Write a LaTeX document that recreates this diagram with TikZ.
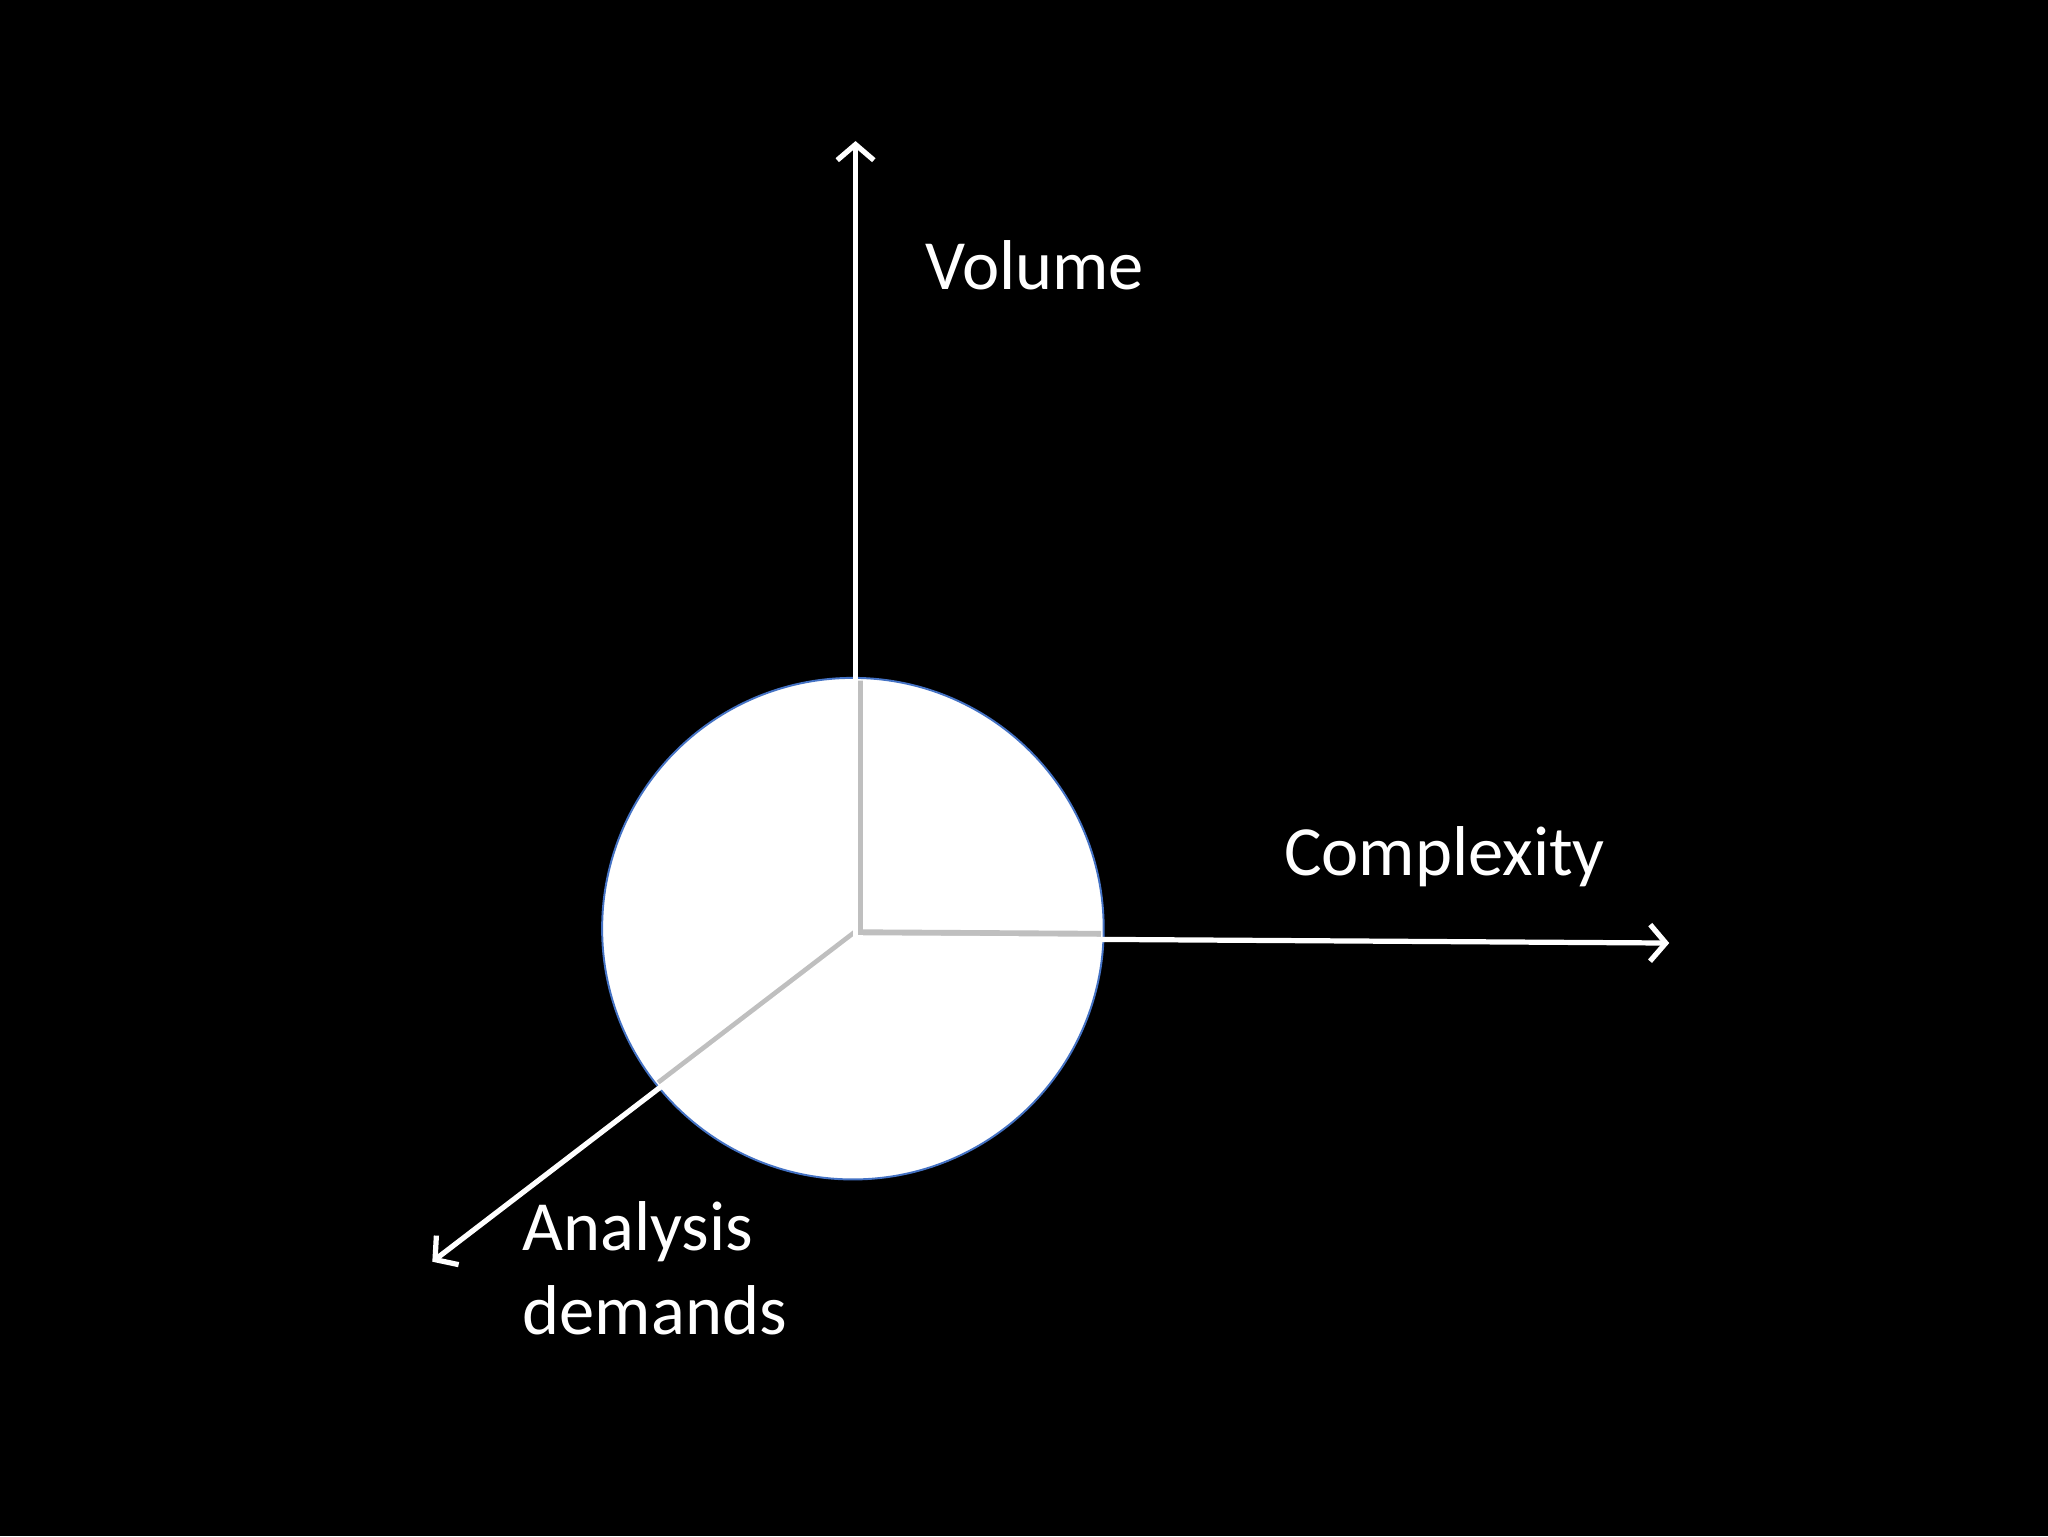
\documentclass[tikz,border=0pt]{standalone}
\usepackage{fontspec}
\setmainfont{Carlito}
\usetikzlibrary{arrows.meta}
\begin{document}
\begin{tikzpicture}[x=1pt,y=-1pt,
  axis/.style={draw=white,line width=4pt,-{Straight Barb[length=12pt,width=28pt,line width=4pt]}},
  shadow/.style={draw=black!25,line width=5pt},
  lbl/.style={text=white,font=\fontsize{54}{64}\selectfont,anchor=base west,inner sep=0pt}]
\fill[black] (0,0) rectangle (1568,1176);
\useasboundingbox (0,0) rectangle (1568,1176);
\node[circle,fill=white,draw={rgb,255:red,68;green,114;blue,196},line width=1.5pt,minimum size=384pt,inner sep=0pt] (ball) at (653,711) {};
\coordinate (o) at (655,718);
\coordinate (v) at (655,108);
\coordinate (c) at (1278,722);
\coordinate (a) at (331,966);
\begin{scope}
\clip (ball.center) circle (190pt);
\draw[shadow] ([xshift=3pt]o) -- ([xshift=3pt]v);
\draw[shadow] ([yshift=4pt]o) -- ([yshift=4pt]c);
\draw[shadow] ([yshift=4pt]o) -- ([yshift=4pt]a);
\end{scope}
\draw[axis] (o) -- (v);
\draw[axis] (o) -- (c);
\draw[axis] (o) -- (a);
\node[lbl] (lv) at (708,222) {Volume};
\node[lbl] (lc) at (983,670) {Complexity};
\node[lbl,align=left,anchor=north west] (la) at (400,920) {Analysis\\demands};
\end{tikzpicture}
\end{document}
